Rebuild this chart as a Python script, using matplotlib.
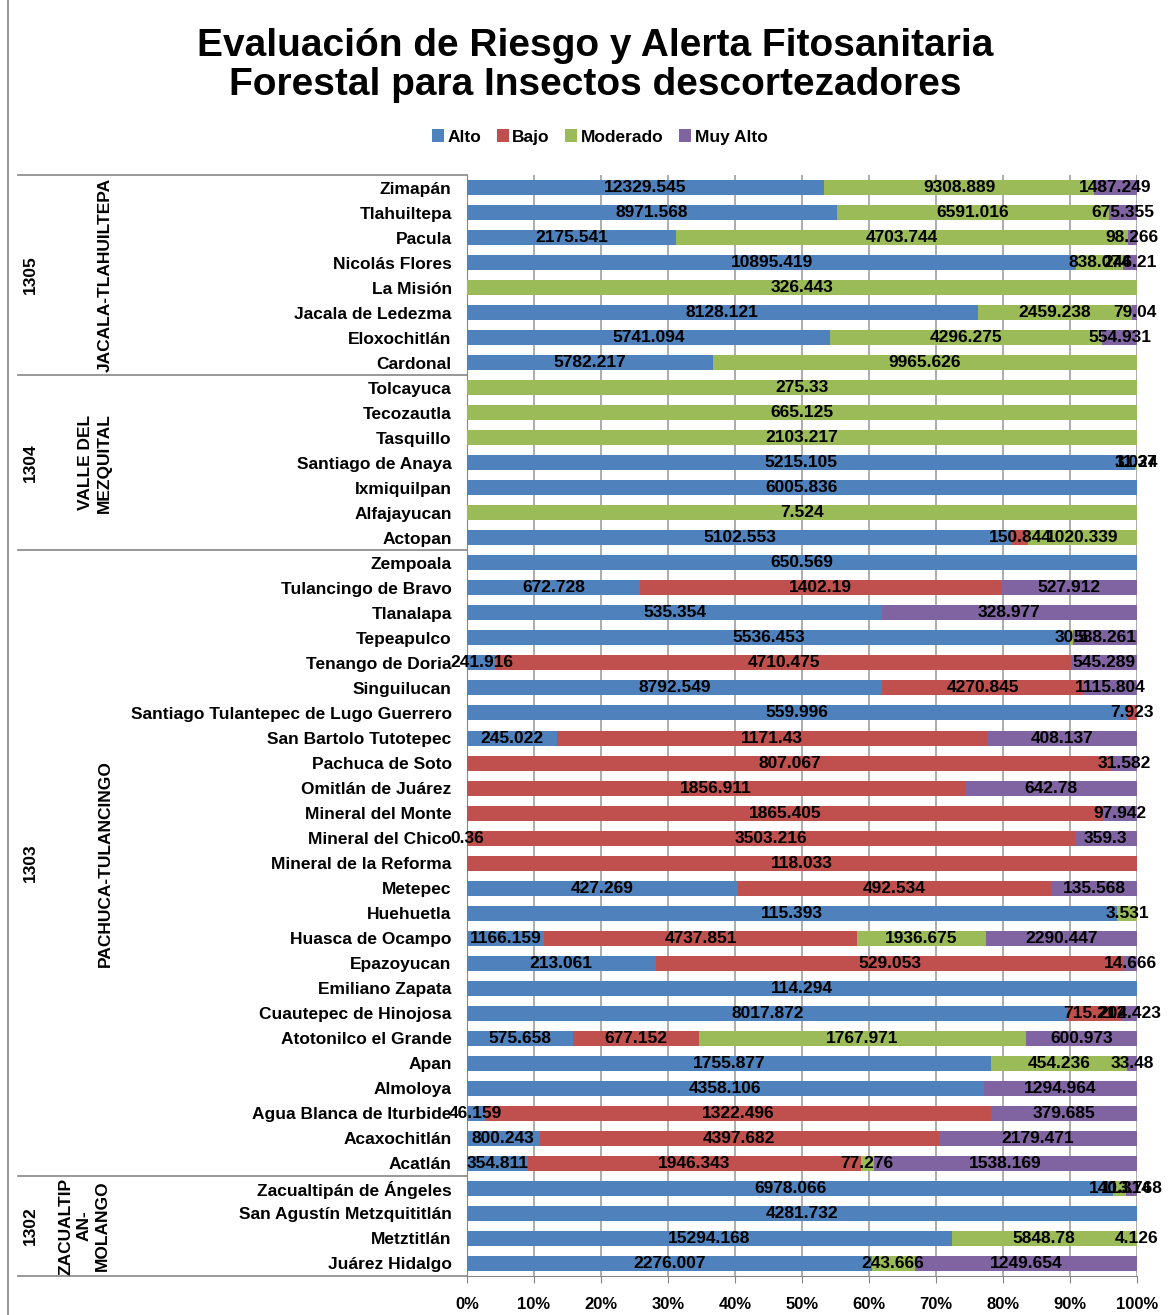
import matplotlib.pyplot as plt
import numpy as np

plt.rcParams['font.family'] = ['Liberation Sans', 'DejaVu Sans']
plt.rcParams['font.weight'] = 'bold'

# municipios, top to bottom
names = ['Zimapán', 'Tlahuiltepa', 'Pacula', 'Nicolás Flores', 'La Misión',
         'Jacala de Ledezma', 'Eloxochitlán', 'Cardonal',
         'Tolcayuca', 'Tecozautla', 'Tasquillo', 'Santiago de Anaya',
         'Ixmiquilpan', 'Alfajayucan', 'Actopan',
         'Zempoala', 'Tulancingo de Bravo', 'Tlanalapa', 'Tepeapulco',
         'Tenango de Doria', 'Singuilucan', 'Santiago Tulantepec de Lugo Guerrero',
         'San Bartolo Tutotepec', 'Pachuca de Soto', 'Omitlán de Juárez',
         'Mineral del Monte', 'Mineral del Chico', 'Mineral de la Reforma',
         'Metepec', 'Huehuetla', 'Huasca de Ocampo', 'Epazoyucan',
         'Emiliano Zapata', 'Cuautepec de Hinojosa', 'Atotonilco el Grande',
         'Apan', 'Almoloya', 'Agua Blanca de Iturbide', 'Acaxochitlán', 'Acatlán',
         'Zacualtipán de Ángeles', 'San Agustín Metzquititlán', 'Metztitlán',
         'Juárez Hidalgo']

alto = [12329.545, 8971.568, 2175.541, 10895.419, 0, 8128.121, 5741.094, 5782.217,
        0, 0, 0, 5215.105, 6005.836, 0, 5102.553,
        650.569, 672.728, 535.354, 5536.453, 241.916, 8792.549, 559.996, 245.022,
        0, 0, 0, 0.36, 0, 427.269, 115.393, 1166.159, 213.061, 114.294, 8017.872,
        575.658, 1755.877, 4358.106, 46.159, 800.243, 354.811,
        6978.066, 4281.732, 15294.168, 2276.007]
bajo = [0, 0, 0, 0, 0, 0, 0, 0,
        0, 0, 0, 0, 0, 0, 150.844,
        0, 1402.19, 0, 0, 4710.475, 4270.845, 7.923, 1171.43,
        807.067, 1856.911, 1865.405, 3503.216, 118.033, 492.534, 0, 4737.851, 529.053, 0, 715.212,
        677.152, 0, 0, 1322.496, 4397.682, 1946.343,
        0, 0, 0, 0]
moderado = [9308.889, 6591.016, 4703.744, 838.074, 326.443, 2459.238, 4296.275, 9965.626,
            275.33, 665.125, 2103.217, 11.37, 0, 7.524, 1020.339,
            0, 0, 0, 30.5, 0, 0, 0, 0,
            0, 0, 0, 0, 0, 0, 3.531, 1936.675, 0, 0, 0,
            1767.971, 454.236, 0, 0, 0, 77.276,
            140.314, 0, 5848.78, 243.666]
muy_alto = [1487.249, 675.355, 98.266, 246.21, 0, 79.04, 554.931, 0,
            0, 0, 0, 3.024, 0, 0, 0,
            0, 527.912, 328.977, 588.261, 545.289, 1115.804, 0, 408.137,
            31.582, 642.78, 97.942, 359.3, 0, 135.568, 0, 2290.447, 14.666, 0, 204.423,
            600.973, 33.48, 1294.964, 379.685, 2179.471, 1538.169,
            113.768, 0, 4.126, 1249.654]

series = ['Alto', 'Bajo', 'Moderado', 'Muy Alto']
colors = ['#4F81BD', '#C0504D', '#9BBB59', '#8064A2']

# regiones: (codigo, nombre, filas)
groups = [('1305', 'JACALA-TLAHUILTEPA', 8),
          ('1304', 'VALLE DEL\nMEZQUITAL', 7),
          ('1303', 'PACHUCA-TULANCINGO', 25),
          ('1302', 'ZACUALTIP\nAN-\nMOLANGO', 4)]

data = np.array([alto, bajo, moderado, muy_alto], dtype=float)
pct = data / data.sum(axis=0) * 100
y = np.arange(len(names))

fig = plt.figure(figsize=(11.71, 13.15), dpi=100)
ax = fig.add_axes([467/1171, 1 - 1276/1315, 670/1171, 1101/1315])

left = np.zeros(len(names))
for i in range(4):
    bars = ax.barh(y, pct[i], left=left, height=0.6, color=colors[i],
                   label=series[i], zorder=3)
    labs = [str(v) if v > 0 else '' for v in data[i]]
    ax.bar_label(bars, labels=labs, label_type='center', fontsize=12.5,
                 fontweight='bold', color='black', zorder=5)
    left += pct[i]

ax.set_ylim(len(names) - 0.5, -0.5)
ax.set_xlim(0, 100)
ax.set_yticks(y)
ax.set_yticklabels(names, fontsize=12.5, fontweight='bold')
ax.tick_params(axis='y', length=0, pad=11)
ax.set_xticks(np.arange(0, 101, 10))
ax.set_xticklabels([f'{v}%' for v in range(0, 101, 10)], fontsize=12, fontweight='bold')
ax.tick_params(axis='x', length=5, direction='out', color='#868686', pad=10)
ax.grid(axis='x', color='#A6A6A6', linewidth=1.3, zorder=0)
for s in ['top', 'right']:
    ax.spines[s].set_visible(False)
for s in ['left', 'bottom']:
    ax.spines[s].set_color('#868686')

# lineas y etiquetas de la jerarquia
tr = ax.get_yaxis_transform()
x0 = (18 - 467) / 670
start = 0
bounds = [-0.5]
for code, region, n in groups:
    mid = start + (n - 1) / 2
    ax.text((30 - 467) / 670, mid, code, transform=tr, rotation=90, ha='center',
            va='center', fontsize=12.5, fontweight='bold')
    xr = 95 if '\n' in region else 105
    if region.count('\n') == 2:
        xr = 84
    ax.text((xr - 467) / 670, mid, region, transform=tr, rotation=90, ha='center',
            va='center', fontsize=12.5, fontweight='bold', multialignment='center',
            linespacing=1.25)
    start += n
    bounds.append(start - 0.5)
for b in bounds:
    ax.plot([x0, 0], [b, b], transform=tr, color='#868686', linewidth=1.2, clip_on=False)

fig.text(0.508, 0.979, 'Evaluación de Riesgo y Alerta Fitosanitaria\nForestal para Insectos descortezadores',
         ha='center', va='top', fontsize=28, fontweight='bold', linespacing=1.12)
fig.legend(loc='center', bbox_to_anchor=(0.512, 1 - 137/1315), ncol=4, frameon=False,
           handlelength=0.7, handleheight=0.7, handletextpad=0.2,
           columnspacing=0.9, prop={'weight': 'bold', 'size': 12.5})

fig.add_artist(plt.Line2D([8/1171, 8/1171], [0, 1], color='#868686', linewidth=1.2))

fig.savefig('out.png', dpi=100)
